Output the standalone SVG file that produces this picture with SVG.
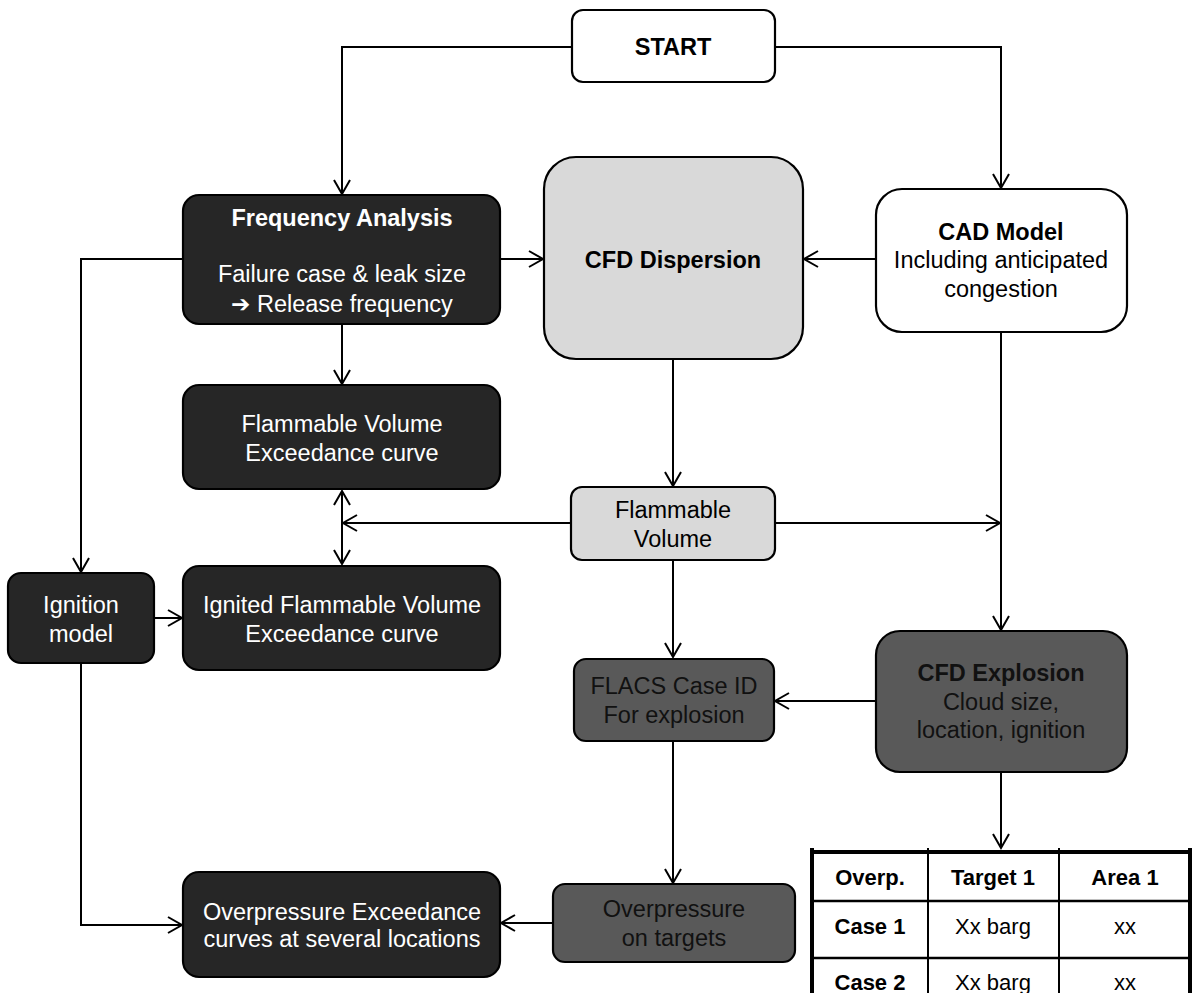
<svg xmlns="http://www.w3.org/2000/svg" width="1192" height="993" viewBox="0 0 1192 993">
<defs>
<marker id="arr" markerUnits="userSpaceOnUse" markerWidth="20" markerHeight="20" viewBox="-16 -10 20 20" refX="0" refY="0" orient="auto-start-reverse">
<path d="M-14,-8 L0,0 L-14,8" fill="none" stroke="#000" stroke-width="2"/>
</marker>
<style>
.box{stroke:#000;stroke-width:2.2}
.dark{fill:#262626}
.mid{fill:#595959}
.light{fill:#d9d9d9}
.white{fill:#fff}
text{font-family:"Liberation Sans",Arial,"DejaVu Sans",sans-serif;font-size:23.5px;text-anchor:middle}
.b{font-weight:bold}
.tw{fill:#fff}
.tk{fill:#000}
.tm{fill:#111}
.conn path{fill:none;stroke:#000;stroke-width:2;marker-end:url(#arr)}
.tbl text{font-size:22px}
.tbl line{stroke:#000}
</style>
</defs>
<rect width="1192" height="993" fill="#fff"/>
<g class="conn" id="connectors">
<path d="M572,47 H342 V194"/>
<path d="M775,47 H1001 V188"/>
<path d="M500,259 H543"/>
<path d="M876,259 H804"/>
<path d="M183,259 H81 V572"/>
<path d="M342,324 V384"/>
<path d="M342,491 V564" marker-start="url(#arr)"/>
<path d="M571,523 H343"/>
<path d="M775,523 H1000"/>
<path d="M1001,332 V630"/>
<path d="M673,359 V486"/>
<path d="M673,560 V657"/>
<path d="M154,618 H182"/>
<path d="M876,701 H775"/>
<path d="M673,741 V883"/>
<path d="M553,923 H501"/>
<path d="M81,663 V925 H182"/>
<path d="M1001,772 V848"/>
</g>
<g id="start"><rect class="box white" x="572" y="10" width="203" height="72" rx="11"/><text class="b tk" x="673" y="55">START</text></g>
<g id="freq"><rect class="box dark" x="183" y="195" width="317" height="129" rx="16"/>
<text class="b tw" x="342" y="226">Frequency Analysis</text>
<text class="tw" x="342" y="282">Failure case &amp; leak size</text>
<text class="tw" x="342" y="312"><tspan font-family="DejaVu Sans" font-weight="bold" font-size="23">➔</tspan> Release frequency</text></g>
<g id="cfddisp"><rect class="box light" x="544" y="157" width="259" height="202" rx="32"/><text class="b tk" x="673" y="268">CFD Dispersion</text></g>
<g id="cad"><rect class="box white" x="876" y="189" width="251" height="143" rx="26"/>
<text class="b tk" x="1001" y="240">CAD Model</text>
<text class="tk" x="1001" y="268">Including anticipated</text>
<text class="tk" x="1001" y="297">congestion</text></g>
<g id="fve"><rect class="box dark" x="183" y="385" width="317" height="104" rx="16"/>
<text class="tw" x="342" y="432">Flammable Volume</text>
<text class="tw" x="342" y="461">Exceedance curve</text></g>
<g id="ifve"><rect class="box dark" x="183" y="566" width="317" height="104" rx="16"/>
<text class="tw" x="342" y="613">Ignited Flammable Volume</text>
<text class="tw" x="342" y="642">Exceedance curve</text></g>
<g id="ignition"><rect class="box dark" x="8" y="573" width="146" height="90" rx="13"/>
<text class="tw" x="81" y="613">Ignition</text>
<text class="tw" x="81" y="642">model</text></g>
<g id="flamvol"><rect class="box light" x="571" y="487" width="204" height="73" rx="11"/>
<text class="tk" x="673" y="518">Flammable</text>
<text class="tk" x="673" y="547">Volume</text></g>
<g id="flacs"><rect class="box mid" x="574" y="659" width="200" height="82" rx="12"/>
<text class="tm" x="674" y="694">FLACS Case ID</text>
<text class="tm" x="674" y="723">For explosion</text></g>
<g id="cfdexp"><rect class="box mid" x="876" y="631" width="251" height="141" rx="24"/>
<text class="b tm" x="1001" y="681">CFD Explosion</text>
<text class="tm" x="1001" y="710">Cloud size,</text>
<text class="tm" x="1001" y="738">location, ignition</text></g>
<g id="optargets"><rect class="box mid" x="553" y="884" width="242" height="78" rx="12"/>
<text class="tm" x="674" y="917">Overpressure</text>
<text class="tm" x="674" y="946">on targets</text></g>
<g id="ope"><rect class="box dark" x="183" y="872" width="317" height="105" rx="16"/>
<text class="tw" x="342" y="920">Overpressure Exceedance</text>
<text class="tw" x="342" y="947">curves at several locations</text></g>
<g id="table" class="tbl">
<rect x="812" y="852" width="379" height="141" fill="#fff"/>
<line x1="810" y1="852" x2="1192" y2="852" stroke-width="4"/>
<line x1="812" y1="848" x2="812" y2="993" stroke-width="4"/>
<line x1="1190" y1="848" x2="1190" y2="993" stroke-width="4"/>
<line x1="928" y1="848" x2="928" y2="993" stroke-width="2"/>
<line x1="1059" y1="848" x2="1059" y2="993" stroke-width="2"/>
<line x1="812" y1="901" x2="1190" y2="901" stroke-width="2.5"/>
<line x1="812" y1="958" x2="1190" y2="958" stroke-width="2.5"/>
<text class="b tk" x="870" y="885">Overp.</text>
<text class="b tk" x="993" y="885">Target 1</text>
<text class="b tk" x="1125" y="885">Area 1</text>
<text class="b tk" x="870" y="934">Case 1</text>
<text class="tk" x="993" y="934">Xx barg</text>
<text class="tk" x="1125" y="934">xx</text>
<text class="b tk" x="870" y="990">Case 2</text>
<text class="tk" x="993" y="990">Xx barg</text>
<text class="tk" x="1125" y="990">xx</text>
</g>
</svg>
